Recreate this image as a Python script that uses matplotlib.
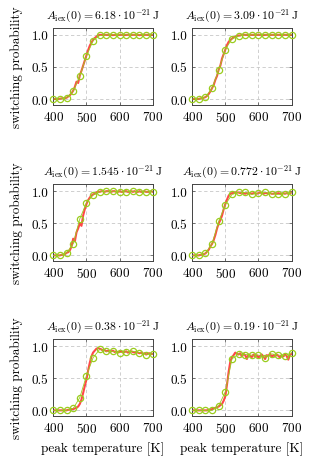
import matplotlib
matplotlib.use("Agg")
import matplotlib.pyplot as plt
import numpy as np

plt.rcParams['font.family'] = ['cmr10', 'DejaVu Serif']
plt.rcParams['mathtext.fontset'] = 'cm'
plt.rcParams['axes.formatter.use_mathtext'] = True

titles = [r"$A_{\mathrm{iex}}(0) = 6.18\cdot10^{-21}\,\mathrm{J}$",
          r"$A_{\mathrm{iex}}(0) = 3.09\cdot10^{-21}\,\mathrm{J}$",
          r"$A_{\mathrm{iex}}(0) = 1.545\cdot10^{-21}\,\mathrm{J}$",
          r"$A_{\mathrm{iex}}(0) = 0.772\cdot10^{-21}\,\mathrm{J}$",
          r"$A_{\mathrm{iex}}(0) = 0.38\cdot10^{-21}\,\mathrm{J}$",
          r"$A_{\mathrm{iex}}(0) = 0.19\cdot10^{-21}\,\mathrm{J}$"]

# coarse runs (circles), every 20 K
t_coarse = np.arange(400, 701, 20)
p1 = [0, 0, 0.02, 0.12, 0.36, 0.67, 0.91, 0.99, 1, 1, 1, 1, 1, 1, 1, 1]
p2 = [0, 0, 0.03, 0.17, 0.45, 0.77, 0.94, 0.98, 1, 1, 1, 1, 1, 1, 1, 1]
p3 = [0, 0, 0.04, 0.18, 0.57, 0.82, 0.94, 0.99, 1, 1, 0.99, 0.99, 1, 0.99, 0.99, 0.99]
p4 = [0, 0, 0.03, 0.18, 0.53, 0.79, 0.95, 0.98, 0.98, 0.95, 0.97, 0.98, 0.96, 0.95, 0.96, 0.98]
p5 = [0, 0, 0, 0.03, 0.2, 0.54, 0.82, 0.95, 0.92, 0.92, 0.9, 0.91, 0.92, 0.9, 0.87, 0.88]
p6 = [0, 0, 0, 0, 0.07, 0.29, 0.8, 0.88, 0.87, 0.86, 0.86, 0.82, 0.88, 0.86, 0.85, 0.9]
coarse = [p1, p2, p3, p4, p5, p6]

# fine runs (red), every 5 K
t_fine = np.arange(400, 701, 5)
f1 = [0, 0, 0, 0, 0.005, 0.01, 0.01, 0.015,
      0.02, 0.04, 0.06, 0.09, 0.13, 0.19, 0.27, 0.25, 0.37, 0.44, 0.52, 0.60,
      0.68, 0.76, 0.83, 0.88, 0.92, 0.95, 0.97, 0.99,
      1, 1, 0.995, 1, 1, 1, 1, 1, 0.995, 1, 1, 1, 1, 1, 1, 0.995, 1, 1, 1, 1, 1,
      1, 1, 1, 0.995, 1, 1, 1, 1, 1, 1, 1, 1]
f2 = [0, 0, 0, 0, 0, 0.01, 0.01, 0.02,
      0.03, 0.05, 0.08, 0.12, 0.17, 0.22, 0.30, 0.36, 0.46, 0.52, 0.63, 0.70,
      0.77, 0.84, 0.89, 0.92, 0.94, 0.96, 0.97, 0.98,
      0.99, 0.99, 1, 1, 1, 1, 0.995, 1, 1, 1, 1, 1, 1, 1, 1, 0.995, 1, 1, 1, 1, 1,
      1, 1, 1, 1, 1, 0.995, 1, 1, 1, 1, 1, 1]
f3 = [0, 0, 0, 0, 0, 0.01, 0.01, 0.02,
      0.04, 0.05, 0.08, 0.14, 0.26, 0.22, 0.36, 0.42, 0.50, 0.46, 0.62, 0.72,
      0.80, 0.86, 0.90, 0.93, 0.95, 0.96, 0.98, 0.99,
      0.99, 1, 1, 0.99, 1, 1, 1, 0.99, 1, 1, 0.99, 0.99, 1, 0.99, 0.99, 1, 1, 0.99,
      0.99, 1, 0.99, 1, 0.99, 0.99, 1, 0.99, 0.99, 1, 0.99, 0.99, 0.99, 1, 0.99]
f4 = [0, 0, 0, 0, 0, 0.01, 0.01, 0.02,
      0.03, 0.06, 0.09, 0.14, 0.18, 0.24, 0.32, 0.42, 0.50, 0.55, 0.62, 0.72,
      0.80, 0.87, 0.93, 0.96, 0.97, 0.97, 0.98, 0.98,
      0.98, 0.97, 0.98, 0.97, 0.96, 0.97, 0.96, 0.97, 0.96, 0.97, 0.97, 0.96, 0.97,
      0.98, 0.97, 0.96, 0.97, 0.97, 0.96, 0.97, 0.96, 0.96, 0.97, 0.96, 0.97, 0.96,
      0.96, 0.97, 0.96, 0.97, 0.96, 0.97, 0.98]
f5 = [0, 0, 0, 0, 0, 0, 0, 0,
      0, 0.01, 0.01, 0.02, 0.02, 0.03, 0.04, 0.06, 0.10, 0.17, 0.27, 0.38,
      0.48, 0.62, 0.74, 0.84, 0.90, 0.93, 0.96, 0.97,
      0.96, 0.95, 0.93, 0.94, 0.92, 0.93, 0.91, 0.92, 0.93, 0.91, 0.92, 0.90, 0.91,
      0.92, 0.90, 0.91, 0.92, 0.90, 0.91, 0.92, 0.91, 0.90, 0.91, 0.90, 0.89, 0.90,
      0.88, 0.89, 0.87, 0.88, 0.89, 0.88, 0.88]
f6 = [0, 0, 0, 0, 0, 0, 0, 0,
      0, 0, 0.01, 0.01, 0.02, 0.03, 0.04, 0.05, 0.06, 0.08, 0.10, 0.15,
      0.22, 0.40, 0.60, 0.76, 0.83, 0.86, 0.90, 0.88,
      0.87, 0.89, 0.84, 0.88, 0.86, 0.80, 0.87, 0.85, 0.83, 0.87, 0.84, 0.86, 0.82,
      0.85, 0.87, 0.84, 0.80, 0.86, 0.85, 0.88, 0.83, 0.86, 0.84, 0.87, 0.85, 0.82,
      0.86, 0.84, 0.87, 0.85, 0.79, 0.86, 0.88]
fine = [f1, f2, f3, f4, f5, f6]

fig = plt.figure(figsize=(3.1, 4.64), dpi=100)

lefts = [0.172, 0.620]
bottoms = [0.772, 0.435, 0.101]
w, h = 0.3206, 0.166

for i in range(6):
    r, c = i // 2, i % 2
    ax = fig.add_axes([lefts[c], bottoms[r], w, h])
    ax.grid(True, color='#c8c8c8', linestyle=(0, (4, 3)), linewidth=0.6)
    ax.set_axisbelow(True)
    ax.plot(t_fine, fine[i], color='#ff3434', linewidth=1.5, alpha=0.9, zorder=2)
    ax.plot(t_coarse, coarse[i], color='#9acd1e', linewidth=0.6, marker='o',
            markersize=4.5, markerfacecolor='none', markeredgewidth=0.9,
            zorder=3, clip_on=False)
    ax.set_xlim(400, 700)
    ax.set_ylim(-0.09, 1.11)
    ax.set_xticks([400, 500, 600, 700])
    ax.set_yticks([0, 0.5, 1.0])
    ax.set_yticklabels(['0.0', '0.5', '1.0'])
    ax.tick_params(labelsize=9.5, direction='in', length=2, width=0.5,
                   color='#444444', top=True, right=True, pad=3.5)
    for s in ax.spines.values():
        s.set_color('#444444')
        s.set_linewidth(0.7)
    ax.set_title(titles[i], fontsize=8.5, pad=7)
    if c == 0:
        ax.set_ylabel('switching probability', fontsize=9.5, labelpad=6)
    if r == 2:
        ax.set_xlabel('peak temperature [K]', fontsize=9.5, labelpad=5)

fig.savefig('out.png', dpi=100)
